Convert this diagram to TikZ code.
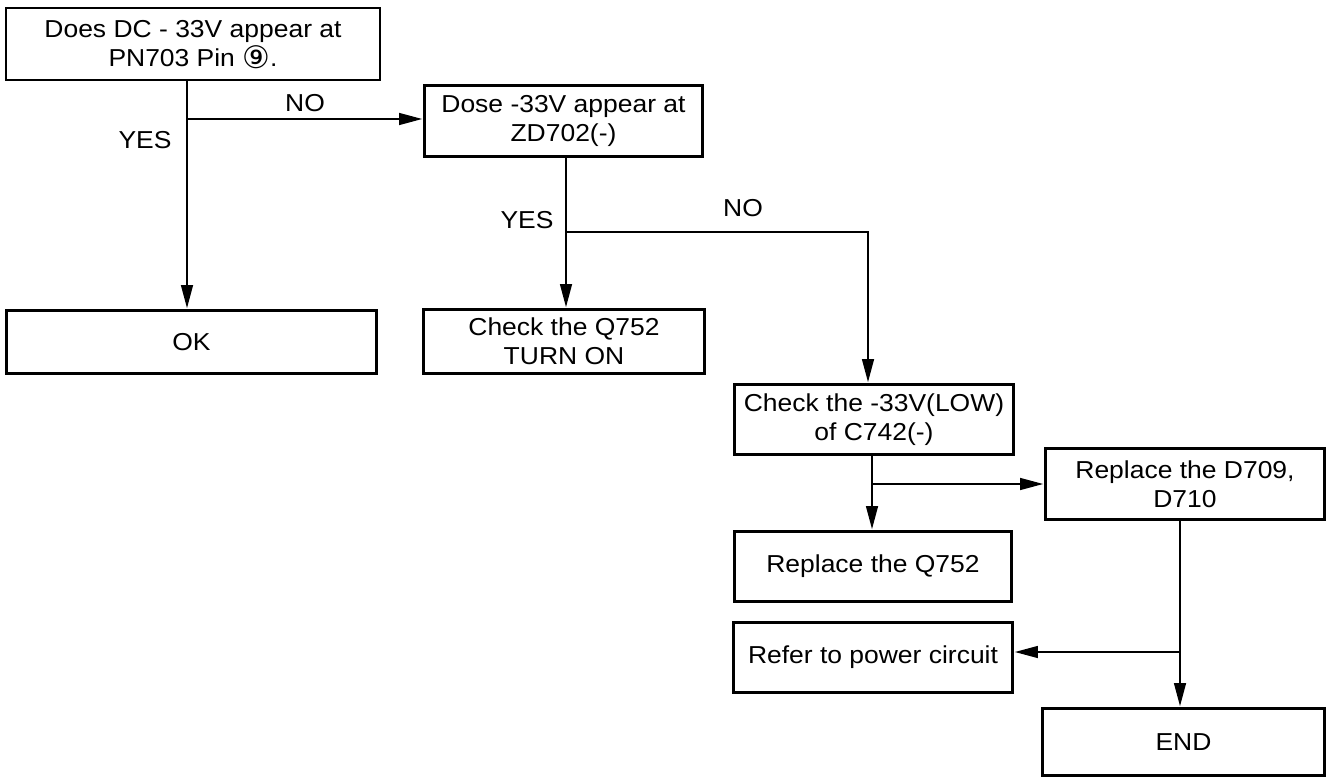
\documentclass[tikz,border=0pt]{standalone}
\usepackage{fontspec}
\setmainfont{Liberation Sans}[FakeStretch=1.08]
\newfontfamily\dejavu{DejaVu Sans}
\usetikzlibrary{arrows.meta}
\newcommand\circnine{\raisebox{-2pt}{\smash{\dejavu\fontsize{31}{31}\selectfont ⑨}}}
\begin{document}
\begin{tikzpicture}[x=1pt,y=-1pt,
  box/.style={draw, line width=2.8pt, rectangle, inner sep=0pt, align=center, font=\fontsize{24.5}{29}\selectfont},
  lbl/.style={inner sep=0pt, font=\fontsize{24.5}{29}\selectfont},
  arr/.style={line width=1.3pt, -{Triangle[length=23pt,width=12pt]}, shorten >=1pt},
  ln/.style={line width=1.3pt}]
\useasboundingbox (0,0) rectangle (1329,778);
\node[box, minimum width=374pt, minimum height=72pt] (b1) at (193,44) {Does DC - 33V appear at\\PN703 Pin \circnine.};
\node[box, minimum width=278pt, minimum height=71pt] (b2) at (563.5,121) {Dose -33V appear at\\ZD702(-)};
\node[box, minimum width=370pt, minimum height=63pt] (ok) at (191.5,342) {OK};
\node[box, minimum width=281pt, minimum height=64pt] (q) at (564,341.5) {Check the Q752\\TURN ON};
\node[box, minimum width=279pt, minimum height=70pt] (c742) at (874,419.5) {Check the -33V(LOW)\\of C742(-)};
\node[box, minimum width=277pt, minimum height=70pt] (rq) at (873,566.5) {Replace the Q752};
\node[box, minimum width=279pt, minimum height=71pt] (d709) at (1185,484) {Replace the D709,\\D710};
\node[box, minimum width=279pt, minimum height=70pt] (refer) at (873,657.5) {Refer to power circuit};
\node[box, minimum width=282pt, minimum height=67pt] (end) at (1183.5,742) {END};
\node[lbl] (yes1) at (145,140) {YES};
\node[lbl] (no1) at (305,103) {NO};
\node[lbl] (yes2) at (527,220) {YES};
\node[lbl] (no2) at (743,208) {NO};
\coordinate (j1) at (187,119);
\coordinate (j2) at (566,232);
\coordinate (k2) at (868,232);
\coordinate (j3) at (872,484);
\coordinate (j4) at (1180,652);
\draw[arr] (j1 |- b1.south) -- (j1 |- ok.north);
\draw[arr] (j1) -- (j1 -| b2.west);
\draw[arr] (j2 |- b2.south) -- (j2 |- q.north);
\draw[arr] (j2) -- (k2) -- (k2 |- c742.north);
\draw[arr] (j3 |- c742.south) -- (j3 |- rq.north);
\draw[arr] (j3) -- (j3 -| d709.west);
\draw[arr] (j4 |- d709.south) -- (j4 |- end.north);
\draw[arr] (j4) -- (j4 -| refer.east);
\end{tikzpicture}
\end{document}
